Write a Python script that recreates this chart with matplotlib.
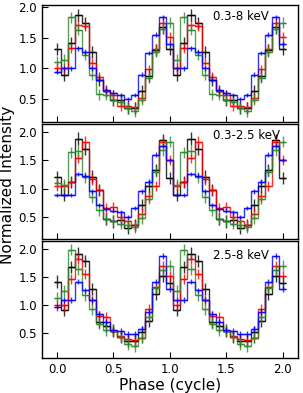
import numpy as np
import matplotlib
matplotlib.use("Agg")
import matplotlib.pyplot as plt

# phase bins: 16 per cycle, shown over two cycles (0 .. 2 inclusive)
phase = np.arange(33) / 16.0
bands = ["0.3-8 keV", "0.3-2.5 keV", "2.5-8 keV"]

def two_cycles(first, cyc):
    # first point (phase 0), then one cycle (phases 1/16 .. 1) repeated
    return [first] + cyc + cyc

# ---- panel 1: 0.3-8 keV ----
p1_black = two_cycles(1.31, [0.89, 1.42, 1.87, 1.74, 1.26, 0.81, 0.62, 0.48, 0.48, 0.34, 0.34, 0.62, 0.88, 1.30, 1.67, 1.31])
p1_red   = two_cycles(1.00, [1.00, 1.33, 1.71, 1.69, 1.09, 0.85, 0.63, 0.56, 0.38, 0.38, 0.36, 0.51, 0.98, 1.32, 1.75, 1.51])
p1_green = two_cycles(1.11, [1.14, 1.84, 1.63, 1.22, 0.89, 0.57, 0.56, 0.48, 0.45, 0.34, 0.29, 0.48, 0.84, 1.27, 1.65, 1.75])
p1_blue  = two_cycles(0.94, [1.00, 1.00, 1.33, 1.26, 1.00, 0.81, 0.64, 0.60, 0.56, 0.49, 0.56, 0.89, 1.25, 1.55, 1.84, 1.40])

# ---- panel 2: 0.3-2.5 keV ----
p2_black = two_cycles(1.20, [0.89, 1.12, 1.88, 1.70, 1.21, 0.97, 0.46, 0.42, 0.45, 0.30, 0.36, 0.71, 1.04, 1.33, 1.86, 1.19])
p2_red   = two_cycles(1.04, [1.04, 1.12, 1.54, 1.83, 1.16, 0.98, 0.65, 0.68, 0.50, 0.42, 0.36, 0.56, 0.86, 1.04, 1.83, 1.50])
p2_green = two_cycles(1.10, [1.07, 1.64, 1.66, 1.20, 0.85, 0.62, 0.46, 0.43, 0.38, 0.36, 0.32, 0.48, 0.82, 1.30, 1.68, 1.83])
p2_blue  = two_cycles(0.89, [0.89, 0.89, 1.26, 1.23, 0.95, 0.71, 0.64, 0.61, 0.58, 0.50, 0.66, 0.95, 1.12, 1.60, 1.75, 1.50])

# ---- panel 3: 2.5-8 keV ----
p3_black = two_cycles(1.42, [0.91, 1.68, 1.92, 1.79, 1.29, 0.70, 0.62, 0.54, 0.42, 0.35, 0.35, 0.52, 0.72, 1.20, 1.52, 1.40])
p3_red   = two_cycles(0.99, [0.99, 1.46, 1.82, 1.55, 1.08, 0.81, 0.78, 0.54, 0.45, 0.39, 0.37, 0.41, 0.93, 1.32, 1.70, 1.52])
p3_green = two_cycles(1.13, [1.25, 1.99, 1.64, 1.17, 0.92, 0.66, 0.55, 0.54, 0.43, 0.30, 0.26, 0.41, 0.78, 1.30, 1.62, 1.70])
p3_blue  = two_cycles(0.97, [1.09, 1.09, 1.42, 1.26, 1.09, 0.84, 0.69, 0.55, 0.53, 0.48, 0.48, 0.57, 0.87, 1.42, 1.88, 1.29])

panels = [
    [p1_black, p1_red, p1_green, p1_blue],
    [p2_black, p2_red, p2_green, p2_blue],
    [p3_black, p3_red, p3_green, p3_blue],
]
# typical 1-sigma errors per series (black, red, green, blue)
errors = [
    [0.10, 0.08, 0.09, 0.04],
    [0.11, 0.09, 0.10, 0.04],
    [0.11, 0.09, 0.10, 0.05],
]
colors = ["black", "red", "#2f8a2f", "blue"]
ylims = [(0.12, 2.04), (0.105, 2.13), (0.054, 2.155)]

W, H = 303, 393
fig = plt.figure(figsize=(W / 100, H / 100), dpi=100)

boxes = [(5, 121.7), (124.5, 239.3), (240.5, 357.7)]
left, right = 42, 297.7
axes = []
for (top, bot) in boxes:
    ax = fig.add_axes([left / W, 1 - bot / H, (right - left) / W, (bot - top) / H])
    axes.append(ax)

half = 0.5 / 16
edges = np.append(phase - half, phase[-1] + half)

for i, ax in enumerate(axes):
    for series, err, c in zip(panels[i], errors[i], colors):
        y = np.asarray(series)
        ax.stairs(y, edges, baseline=None, color=c, lw=1.0, alpha=0.8)
        ax.errorbar(phase, y, yerr=err, xerr=half, fmt="none", ecolor=c,
                    elinewidth=1.0, alpha=0.8, capsize=0)
    ax.set_xlim(-0.134, 2.134)
    ax.set_ylim(*ylims[i])
    ax.set_yticks([0.5, 1.0, 1.5, 2.0])
    ax.set_xticks([0.0, 0.5, 1.0, 1.5, 2.0])
    ax.tick_params(direction="in", length=4, width=0.8, labelsize=8.5,
                   top=False, right=False)
    if i < 2:
        ax.tick_params(labelbottom=False)
    for s in ax.spines.values():
        s.set_linewidth(1.0)
    ax.text(0.67, 0.905 if i < 2 else 0.87, bands[i], transform=ax.transAxes,
            fontsize=8.5, ha="left", va="center")

axes[2].set_xlabel("Phase (cycle)", fontsize=11, labelpad=2)
fig.text(8 / W, 1 - 185 / H, "Normalized Intensity", rotation=90,
         fontsize=11, ha="center", va="center")

fig.savefig("out.png", dpi=100)
